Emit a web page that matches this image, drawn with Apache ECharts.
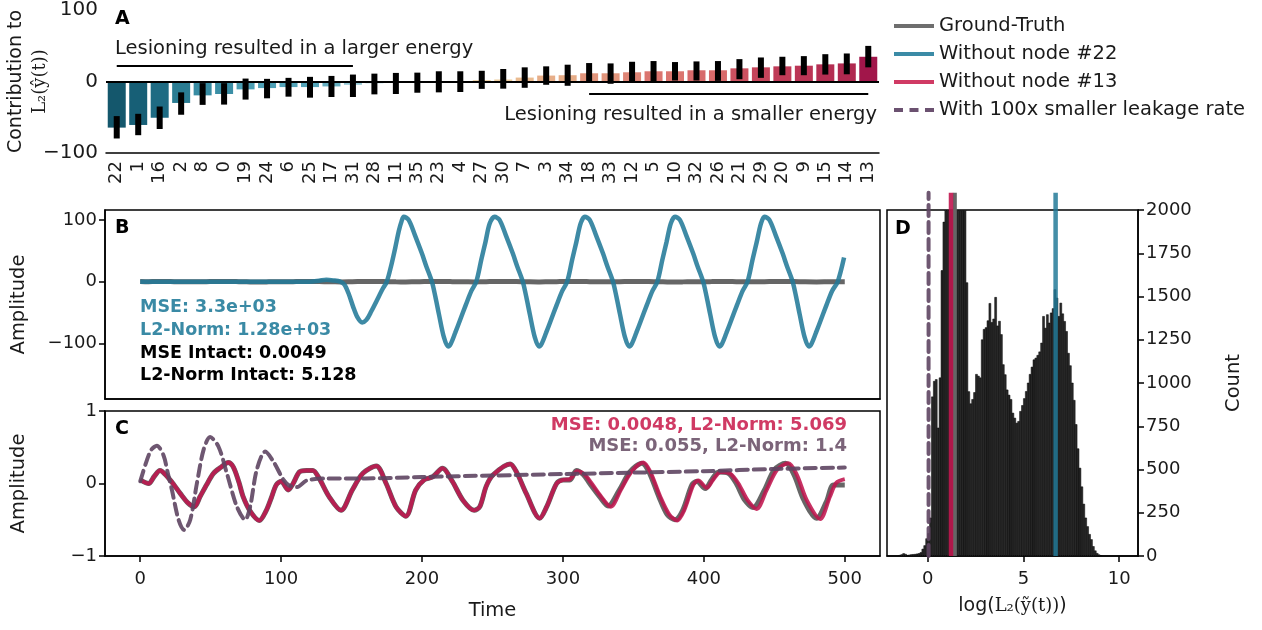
<!DOCTYPE html>
<html>
<head>
<meta charset="utf-8">
<script src="https://cdn.jsdelivr.net/npm/echarts@6/dist/echarts.min.js"></script>
<style>
  html, body { margin: 0; padding: 0; background: #fff; }
  #chart { width: 1262px; height: 630px; }
</style>
</head>
<body>
<div id="chart"></div>
<script>
// Panel A: contribution of each node, sorted
const nodeLabels = ['22','1','16','2','8','0','19','24','6','25','17','31','28','11','35','23','4','27',
                    '30','7','3','34','18','33','12','5','10','32','26','21','29','20','9','15','14','13'];
const contribution = [-64.5,-60.8,-50.7,-30,-19.4,-17.5,-11,-9.2,-7.8,-7.8,-6.9,-4.6,-2.5,-1.5,-0.8,0.3,0.6,2,
                      2.8,5.5,8.3,8.8,11.5,11.5,12.9,14.3,14.3,15.7,15.7,18.4,19.8,21.2,22.1,24,25.3,34.6];
const errLow = [-79.7,-75.1,-66.4,-46.5,-32.7,-32.3,-25.3,-23.5,-21.2,-22.6,-21.7,-21.7,-18,-17.5,-15.7,-15.2,-14.7,-10.3,
                -10,-8.8,-4.6,-6,-0.9,-3.2,0,0,1.4,1.4,0.9,3.2,5.1,8.8,8.8,9.7,10.1,19.8];
const errHigh = [-48.4,-45.2,-35,-15.2,-2.3,-2.3,4.1,3.7,5.1,6.5,7.8,9.7,11,12,12.4,14.3,14.3,15,
                 17.5,19.8,21.2,23.5,25.8,25.3,27.6,28.6,27.2,28.1,28.6,31.3,33.6,34.6,35.5,38.2,39.2,49.8];

// Panels B and C: time series, [time, amplitude]
const truthPoints = [[0,0.05],[6,0],[10,0.1],[14,0.18],[19,0.1],[24,-0.02],[28.5,-0.14],[34,-0.27],[38.5,-0.32],[42.5,-0.18],
  [47,-0.02],[52,0.14],[57,0.22],[62.5,0.29],[66,0.23],[70,0.02],[73,-0.18],[78,-0.38],[84.5,-0.51],[89.5,-0.37],[93,-0.2],
  [96.5,-0.02],[100,0.03],[105,-0.09],[108.5,0],[113,0.16],[118,0.18],[122.5,0.18],[127,0.07],[134,-0.18],[142.5,-0.37],
  [150.5,-0.09],[158,0.14],[167.5,0.24],[174.5,0],[181.5,-0.32],[188.5,-0.45],[195.5,-0.09],[201.5,0.05],[207.5,0.09],
  [214.5,0.21],[221.5,0.03],[229,-0.23],[237,-0.37],[241,-0.32],[245.5,-0.04],[250.5,0.12],[262.5,0.27],[267,0.16],
  [274,-0.14],[283.5,-0.48],[288.5,-0.32],[295.5,0],[300,0.05],[305,0.05],[309.5,0.18],[314.5,0.12],[319,0],[326,-0.18],
  [332,-0.31],[340,-0.09],[347.5,0.16],[356,0.28],[361,0.16],[368,-0.18],[374,-0.43],[379.5,-0.5],[385,-0.37],[391.5,-0.02],
  [395,0.03],[401,-0.07],[405.5,0.05],[410.5,0.16],[417.5,0.14],[423,0],[429,-0.23],[435,-0.33],[443,-0.09],[450,0.19],
  [458,0.28],[464,0.12],[471,-0.23],[480,-0.48],[487,-0.25],[492,-0.02],[500,-0.02]];

const node13Points = [[0,0.05],[6,0],[10,0.1],[14,0.18],[19,0.1],[24,-0.02],[28.5,-0.14],[34,-0.27],[38.5,-0.32],[42.5,-0.18],
  [47,-0.02],[52,0.14],[57,0.22],[62.5,0.29],[66,0.23],[70,0.02],[73,-0.18],[78,-0.38],[84.5,-0.51],[89.5,-0.37],[93,-0.2],
  [96.5,-0.02],[100,0.03],[105,-0.09],[108.5,0],[113,0.16],[118,0.18],[122.5,0.18],[127,0.07],[134,-0.18],[142.5,-0.37],
  [150.5,-0.09],[158,0.14],[167.5,0.24],[174.5,0],[181.5,-0.32],[188.5,-0.45],[195.5,-0.09],[201.5,0.05],[207.5,0.09],
  [214.5,0.21],[221.5,0.03],[229,-0.23],[237,-0.37],[241,-0.32],[245.5,-0.04],[250.5,0.12],[262.5,0.27],[267,0.16],
  [274,-0.14],[283.5,-0.48],[288.5,-0.32],[295.5,0],[300,0.05],[305,0.06],[310,0.17],[315,0.13],[320,0.01],[327,-0.18],
  [334,-0.32],[341,-0.09],[348.5,0.16],[357,0.29],[362,0.16],[369,-0.18],[375.5,-0.43],[381,-0.51],[386,-0.37],[392.5,-0.02],
  [396,0.04],[402,-0.06],[406.5,0.05],[412,0.16],[418.5,0.14],[424.5,0],[431,-0.23],[437.5,-0.35],[444.5,-0.09],[452,0.19],
  [460,0.28],[466,0.12],[473,-0.23],[482.5,-0.49],[489.5,-0.18],[494,0.01],[500,0.06]];

const node22Points = [[0,0],[30,0],[60,0],[90,0],[120,0],[127,1.5],[132,3],[137,2],[142,0],[145,-5],[148,-20],[151,-40],
  [154,-57],[157.5,-66],[160.5,-62],[164,-48],[168,-30],[172,-12],[175,0],[178,25],[181,55],[183.5,82],[185.5,98],
  [187,105],[190.5,100],[195,75],[200,45],[203,25],[207,0],[209.5,-25],[212,-53],[215.5,-90],[218.5,-105],[220.5,-100],
  [223.5,-83],[227,-62],[231,-38],[235,-15],[238.5,0],[242,35],[245,64],[248,94],
  [251.5,105],[255,100],[259.5,75],[264.5,45],[267.5,25],[271.5,0],[274,-25],[276.5,-53],[280,-90],[283,-105],[285,-100],
  [288,-83],[291.5,-62],[295.5,-38],[299.5,-15],[303,0],[306.5,35],[309.5,64],[312.5,94],
  [315.5,105],[319,100],[323.5,75],[328.5,45],[331.5,25],[335.5,0],[338,-25],[340.5,-53],[344,-90],[347,-105],[349,-100],
  [352,-83],[355.5,-62],[359.5,-38],[363.5,-15],[367,0],[370.5,35],[373.5,64],[376.5,94],
  [379.5,105],[383,100],[387.5,75],[392.5,45],[395.5,25],[399.5,0],[402,-25],[404.5,-53],[408,-90],[411,-105],[413,-100],
  [416,-83],[419.5,-62],[423.5,-38],[427.5,-15],[431,0],[434.5,35],[437.5,64],[440.5,94],
  [443,105],[446.5,100],[451,75],[456,45],[459,25],[463,0],[465.5,-25],[468,-53],[471.5,-90],[474.5,-105],[476.5,-100],
  [479.5,-83],[483,-62],[487,-38],[491,-15],[495,0],[499.5,39]];

const leakPoints = [[0,0.03],[4.7,0.32],[8,0.47],[11.8,0.52],[16.5,0.39],[19.5,0.15],[22.5,-0.09],[27.2,-0.5],[31.2,-0.64],
  [35.5,-0.5],[40.2,0],[44.9,0.46],[49.6,0.64],[55.5,0.51],[61.5,0.14],[68.6,-0.32],[74.5,-0.5],[78,-0.32],[82.7,0.19],
  [88.7,0.44],[94.6,0.3],[101.7,0.05],[106,-0.03],[111.2,-0.05],[118,0.04],[132,0.07],[160,0.07],[200,0.09],[250,0.11],
  [300,0.13],[350,0.15],[400,0.17],[450,0.2],[500,0.22]];

// Panel D: histogram of log L2 norms
const histStart = -1.5;
const histBinWidth = 0.1;
const histCounts = [4,8,14,10,4,6,8,9,10,12,14,20,40,60,100,
  130,220,920,1010,1020,740,1030,1650,1930,2350,
  2700,2900,3000,2950,2800,2600,2450,2300,2200,2100,
  1580,950,880,905,945,1050,1040,1030,1250,1310,
  1320,1360,1460,1350,1370,1495,1330,1357,1280,1106,
  1048,960,930,905,826,797,768,778,836,870,
  910,951,1000,1050,1092,1134,1144,1160,1180,1231,
  1385,1317,1395,1347,1405,1430,1540,1491,1385,1462,
  1400,1356,1298,1172,1100,1000,900,760,620,508,
  400,300,220,170,125,95,55,30,15,7,2];
const leakNorm = 0.05;
const node13Norm = 1.22;
const truthNorm = 1.42;
const node22Norm = 6.68;

const timeTicks = [0, 100, 200, 300, 400, 500];
const ampTicks = [-100, 0, 100];
const normTicks = [0, 5, 10];

const FONT = 'DejaVu Sans';
const TEAL = '#237a98';
const CRIMSON = '#c0164f';
const GRAY = '#666666';
const MAUVE = '#5e4562';

function hexToRgb(h) {
  return [1, 3, 5].map(i => parseInt(h.slice(i, i + 2), 16));
}
function lerpColor(stops, v) {
  for (let i = 0; i < stops.length - 1; i++) {
    const [a, ca] = stops[i], [b, cb] = stops[i + 1];
    if (v >= Math.min(a, b) && v <= Math.max(a, b)) {
      const t = (v - a) / (b - a);
      const x = hexToRgb(ca), y = hexToRgb(cb);
      return 'rgb(' + x.map((c, k) => Math.round(c + (y[k] - c) * t)).join(',') + ')';
    }
  }
  return stops[stops.length - 1][1];
}
const posStops = [[0,'#f6e3bf'],[3,'#eccb9c'],[6,'#e9b88e'],[9,'#e6ab87'],[12,'#e0907a'],[14.3,'#db756f'],
                  [16,'#d6686a'],[19,'#c94b5d'],[22,'#bb3555'],[25,'#b02a50'],[35,'#a0154a']];
const negStops = [[0,'#c3e2ea'],[-5,'#8fc6d3'],[-8,'#4fa2b7'],[-12,'#4a9cb2'],[-18,'#3a8ea5'],[-30,'#2a7c92'],
                  [-50,'#1e6c84'],[-61,'#175f76'],[-66,'#135468']];
function barColor(v) {
  return v >= 0 ? lerpColor(posStops, v) : lerpColor(negStops, v);
}

const axisCommon = {
  axisLine: { onZero: false, lineStyle: { color: '#000', width: 1.5 } },
  axisTick: { length: 6, lineStyle: { color: '#000', width: 1.5 } },
  axisLabel: { color: '#1a1a1a', fontSize: 18, fontFamily: FONT },
  splitLine: { show: false },
  nameMoveOverlap: false,
  nameTextStyle: { color: '#1a1a1a', fontSize: 19.5, fontFamily: FONT }
};
const minus = v => String(v).replace('-', '\u2212');

const chart = echarts.init(document.getElementById('chart'));

const solidIcon = 'path://M0,0H40V4H0Z';
const dashIcon = 'path://M0,0H9V4H0Z M15.5,0H24.5V4H15.5Z M31,0H40V4H31Z';

const gridBox = { show: true, borderColor: '#000', borderWidth: 1.5, outerBoundsMode: 'none' };

const option = {
  animation: false,
  backgroundColor: '#fff',
  textStyle: { fontFamily: FONT },
  legend: {
    orient: 'vertical',
    left: 889,
    top: 11,
    itemWidth: 40,
    itemHeight: 4,
    itemGap: 8,
    symbolKeepAspect: false,
    textStyle: { fontSize: 19.5, fontFamily: FONT, color: '#1a1a1a' },
    data: [
      { name: 'Ground-Truth', icon: solidIcon, itemStyle: { color: '#6e6e6e' } },
      { name: 'Without node #22', icon: solidIcon, itemStyle: { color: '#3b8ba6' } },
      { name: 'Without node #13', icon: solidIcon, itemStyle: { color: '#d03a64' } },
      { name: 'With 100x smaller leakage rate', icon: dashIcon, itemStyle: { color: '#6b5170' } }
    ]
  },
  grid: [
    { left: 106, top: 10, width: 773, height: 143, outerBoundsMode: 'none' },
    { left: 105, top: 210, width: 775, height: 189, ...gridBox },
    { left: 105, top: 411, width: 775, height: 145, ...gridBox },
    { left: 887, top: 210, width: 251, height: 346, ...gridBox }
  ],
  xAxis: [
    {
      ...axisCommon, gridIndex: 0, type: 'category', data: nodeLabels,
      axisTick: { alignWithLabel: true, length: 6, lineStyle: { color: '#000', width: 1.5 } },
      axisLabel: { ...axisCommon.axisLabel, rotate: 90, margin: 8, interval: 0 }
    },
    {
      ...axisCommon, gridIndex: 1, type: 'value', min: -25, max: 525,
      axisTick: { show: false }, axisLabel: { show: false }
    },
    {
      ...axisCommon, gridIndex: 2, type: 'value', min: -25, max: 525,
      axisTick: { ...axisCommon.axisTick, customValues: timeTicks },
      axisLabel: { ...axisCommon.axisLabel, customValues: timeTicks, margin: 14 },
      name: 'Time', nameLocation: 'middle', nameGap: 45
    },
    {
      ...axisCommon, gridIndex: 3, type: 'value', min: -2.12, max: 10.98,
      axisTick: { ...axisCommon.axisTick, customValues: normTicks },
      axisLabel: { ...axisCommon.axisLabel, customValues: normTicks, margin: 14 },
      name: '{a|log(}{m|L\u2082(\u1ef9(t))}{a|)}', nameLocation: 'middle', nameGap: 41,
      nameTextStyle: {
        ...axisCommon.nameTextStyle,
        rich: {
          a: { fontSize: 19, fontFamily: FONT, color: '#1a1a1a' },
          m: { fontSize: 18, fontFamily: 'DejaVu Serif', color: '#1a1a1a' }
        }
      }
    }
  ],
  yAxis: [
    {
      ...axisCommon, gridIndex: 0, type: 'value', min: -100, max: 100, interval: 100,
      axisLabel: { ...axisCommon.axisLabel, fontSize: 20, formatter: minus },
      name: 'Contribution to\n{m|L\u2082(\u0177(t))}', nameLocation: 'middle', nameRotate: 90, nameGap: 54,
      nameTextStyle: {
        ...axisCommon.nameTextStyle, fontSize: 19, lineHeight: 24,
        rich: { m: { fontSize: 18, fontFamily: 'DejaVu Serif', color: '#1a1a1a', lineHeight: 24 } }
      }
    },
    {
      ...axisCommon, gridIndex: 1, type: 'value', min: -190, max: 116,
      axisTick: { ...axisCommon.axisTick, customValues: ampTicks },
      axisLabel: { ...axisCommon.axisLabel, customValues: ampTicks, formatter: minus },
      name: 'Amplitude', nameLocation: 'middle', nameRotate: 90, nameGap: 76
    },
    {
      ...axisCommon, gridIndex: 2, type: 'value', min: -1, max: 1, interval: 1,
      axisLabel: { ...axisCommon.axisLabel, formatter: minus },
      name: 'Amplitude', nameLocation: 'middle', nameRotate: 90, nameGap: 76
    },
    {
      ...axisCommon, gridIndex: 3, type: 'value', position: 'right', min: 0, max: 2000, interval: 250,
      axisLabel: { ...axisCommon.axisLabel, formatter: v => String(v) },
      name: 'Count', nameLocation: 'middle', nameRotate: 90, nameGap: 86
    }
  ],
  series: [
    {
      type: 'bar', xAxisIndex: 0, yAxisIndex: 0, barWidth: 18, z: 2,
      data: contribution.map(v => ({ value: v, itemStyle: { color: barColor(v) } })),
      markLine: {
        silent: true, symbol: 'none', label: { show: false },
        lineStyle: { color: '#000', type: 'solid', width: 2 },
        data: [
          { yAxis: 0 },
          [{ coord: [0, 22] }, { coord: [11, 22] }],
          [{ coord: [22, -16.6] }, { coord: [35, -16.6] }]
        ]
      }
    },
    {
      type: 'custom', xAxisIndex: 0, yAxisIndex: 0, z: 3,
      data: nodeLabels.map((n, i) => [i, errLow[i], errHigh[i]]),
      encode: { x: 0, y: [1, 2] },
      renderItem(params, api) {
        const lo = api.coord([api.value(0), api.value(1)]);
        const hi = api.coord([api.value(0), api.value(2)]);
        return { type: 'rect', shape: { x: lo[0] - 3, y: hi[1], width: 6, height: lo[1] - hi[1] }, style: { fill: '#000' } };
      }
    },
    {
      name: 'Ground-Truth', type: 'line', xAxisIndex: 1, yAxisIndex: 1, data: truthPoints,
      showSymbol: false, symbol: 'none', smooth: 0.3, color: GRAY,
      lineStyle: { color: GRAY, width: 5 }
    },
    {
      name: 'Without node #22', type: 'line', xAxisIndex: 1, yAxisIndex: 1, data: node22Points,
      showSymbol: false, symbol: 'none', smooth: 0.3, color: TEAL,
      lineStyle: { color: TEAL, width: 4.5, opacity: 0.88 }
    },
    {
      name: 'Ground-Truth', type: 'line', xAxisIndex: 2, yAxisIndex: 2, data: truthPoints,
      showSymbol: false, symbol: 'none', smooth: 0.3, color: GRAY,
      lineStyle: { color: GRAY, width: 5 }
    },
    {
      name: 'Without node #13', type: 'line', xAxisIndex: 2, yAxisIndex: 2, data: node13Points,
      showSymbol: false, symbol: 'none', smooth: 0.3, color: CRIMSON,
      lineStyle: { color: CRIMSON, width: 4, opacity: 0.88 }
    },
    {
      name: 'With 100x smaller leakage rate', type: 'line', xAxisIndex: 2, yAxisIndex: 2, data: leakPoints,
      showSymbol: false, symbol: 'none', smooth: 0.3, color: MAUVE,
      lineStyle: { color: MAUVE, width: 4, type: [11, 6], cap: 'round', opacity: 0.9 }
    },
    {
      type: 'custom', xAxisIndex: 3, yAxisIndex: 3, clip: true, z: 2,
      data: histCounts.map((c, i) => [histStart + (i + 0.5) * histBinWidth, c]),
      encode: { x: 0, y: 1 },
      renderItem(params, api) {
        const x = api.value(0);
        const p0 = api.coord([x - histBinWidth / 2, 0]);
        const p1 = api.coord([x + histBinWidth / 2, api.value(1)]);
        return {
          type: 'rect',
          shape: { x: p0[0], y: p1[1], width: p1[0] - p0[0], height: p0[1] - p1[1] },
          style: { fill: '#2a2a2a', stroke: '#000', lineWidth: 0.5 }
        };
      }
    },
    {
      name: 'With 100x smaller leakage rate', type: 'line', xAxisIndex: 3, yAxisIndex: 3, clip: false, z: 4,
      data: [[leakNorm, 0], [leakNorm, 2100]], showSymbol: false, symbol: 'none', color: MAUVE,
      lineStyle: { color: MAUVE, width: 4, type: [11, 6], cap: 'round', opacity: 0.9 }
    },
    {
      name: 'Ground-Truth', type: 'line', xAxisIndex: 3, yAxisIndex: 3, clip: false, z: 3,
      data: [[truthNorm, 0], [truthNorm, 2100]], showSymbol: false, symbol: 'none', color: GRAY,
      lineStyle: { color: GRAY, width: 4 }
    },
    {
      name: 'Without node #13', type: 'line', xAxisIndex: 3, yAxisIndex: 3, clip: false, z: 4,
      data: [[node13Norm, 0], [node13Norm, 2100]], showSymbol: false, symbol: 'none', color: CRIMSON,
      lineStyle: { color: CRIMSON, width: 4.5, opacity: 0.9 }
    },
    {
      name: 'Without node #22', type: 'line', xAxisIndex: 3, yAxisIndex: 3, clip: false, z: 4,
      data: [[node22Norm, 0], [node22Norm, 2100]], showSymbol: false, symbol: 'none', color: TEAL,
      lineStyle: { color: TEAL, width: 4.5, opacity: 0.85 }
    }
  ],
  graphic: [
    { type: 'text', x: 115, y: 19, style: { text: 'A', font: 'bold 19px ' + FONT, fill: '#000', verticalAlign: 'middle' } },
    { type: 'text', x: 115, y: 228, style: { text: 'B', font: 'bold 19px ' + FONT, fill: '#000', verticalAlign: 'middle' } },
    { type: 'text', x: 115, y: 429, style: { text: 'C', font: 'bold 19px ' + FONT, fill: '#000', verticalAlign: 'middle' } },
    { type: 'text', x: 895, y: 229, style: { text: 'D', font: 'bold 19px ' + FONT, fill: '#000', verticalAlign: 'middle' } },
    { type: 'text', x: 115, y: 49, style: { text: 'Lesioning resulted in a larger energy', font: '19.5px ' + FONT, fill: '#1a1a1a', verticalAlign: 'middle' } },
    { type: 'text', x: 877, y: 115, style: { text: 'Lesioning resulted in a smaller energy', font: '19.5px ' + FONT, fill: '#1a1a1a', align: 'right', verticalAlign: 'middle' } },
    { type: 'text', x: 140, y: 307, style: { text: 'MSE: 3.3e+03', font: 'bold 17.5px ' + FONT, fill: '#3a8aa5', verticalAlign: 'middle' } },
    { type: 'text', x: 140, y: 330, style: { text: 'L2-Norm: 1.28e+03', font: 'bold 17.5px ' + FONT, fill: '#3a8aa5', verticalAlign: 'middle' } },
    { type: 'text', x: 140, y: 353, style: { text: 'MSE Intact: 0.0049', font: 'bold 17.5px ' + FONT, fill: '#000', verticalAlign: 'middle' } },
    { type: 'text', x: 140, y: 375, style: { text: 'L2-Norm Intact: 5.128', font: 'bold 17.5px ' + FONT, fill: '#000', verticalAlign: 'middle' } },
    { type: 'text', x: 847, y: 425, style: { text: 'MSE: 0.0048, L2-Norm: 5.069', font: 'bold 18px ' + FONT, fill: '#d03a64', align: 'right', verticalAlign: 'middle' } },
    { type: 'text', x: 847, y: 446, style: { text: 'MSE: 0.055, L2-Norm: 1.4', font: 'bold 18px ' + FONT, fill: '#7b6479', align: 'right', verticalAlign: 'middle' } }
  ]
};

chart.setOption(option);
</script>
</body>
</html>
